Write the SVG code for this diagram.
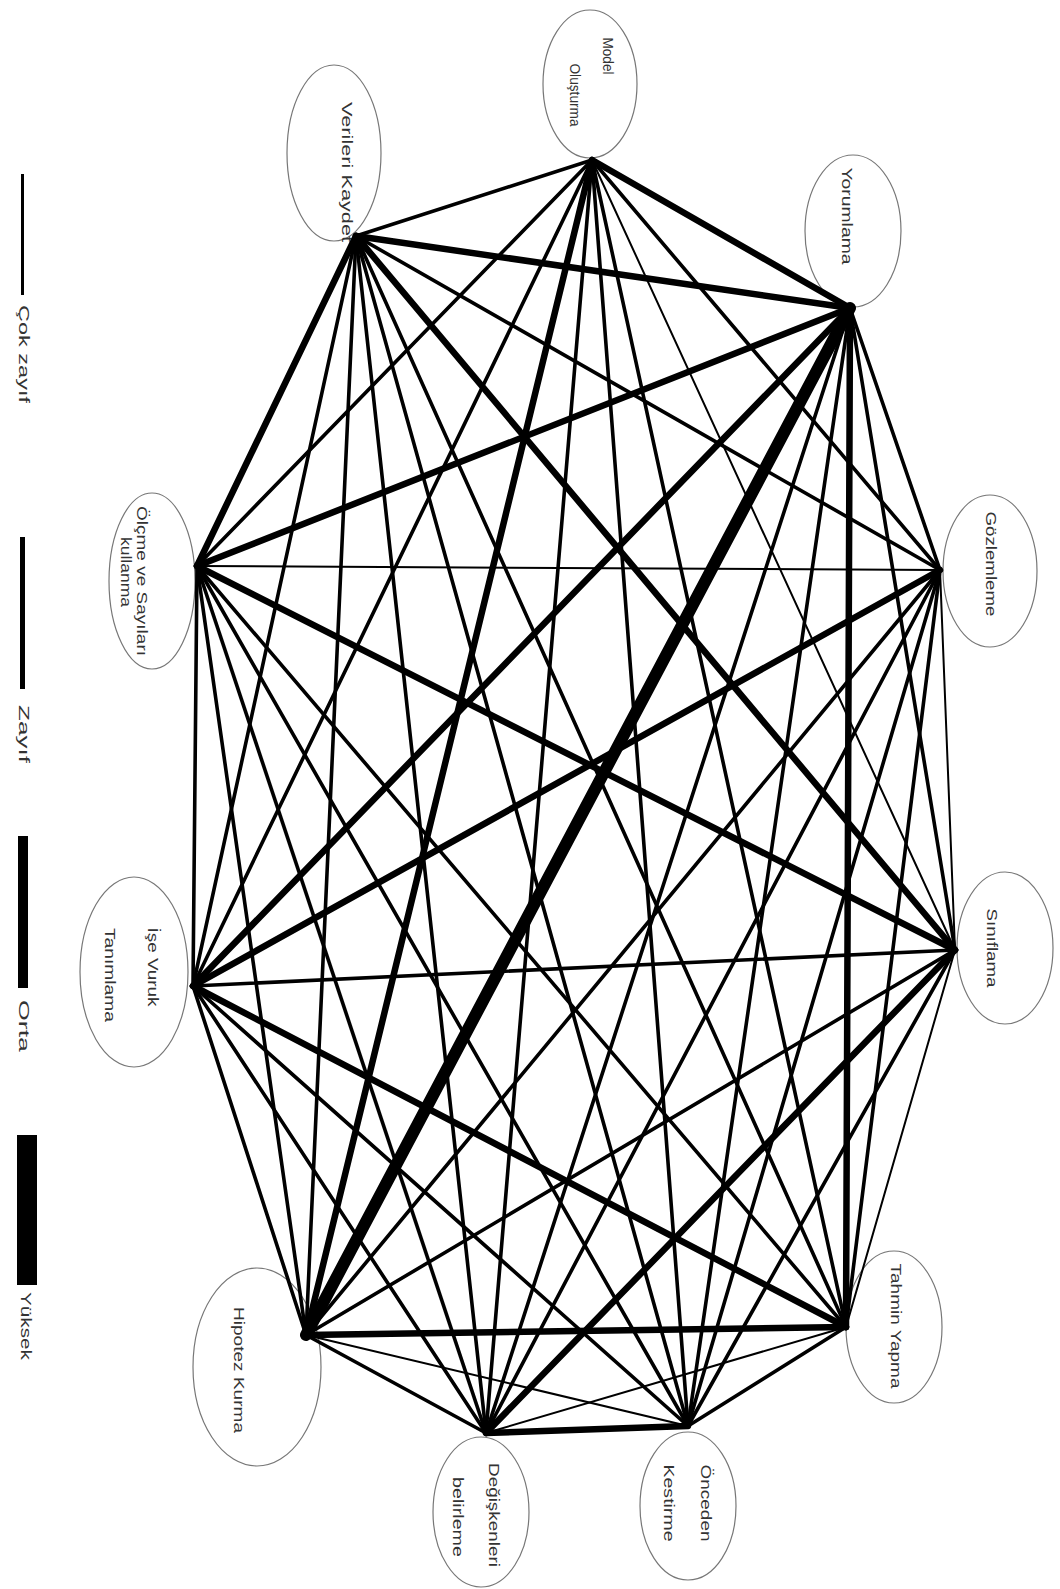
<svg xmlns="http://www.w3.org/2000/svg" width="1060" height="1589" viewBox="0 0 1060 1589">
<style>
.bg{fill:#fff}
.nd ellipse{fill:none;stroke:#777;stroke-width:1.2}
.lb{font-family:"Liberation Sans","DejaVu Sans",sans-serif;font-size:15px;fill:#333;text-anchor:middle;dominant-baseline:central}
.e line{stroke:#000;stroke-linecap:round}
.w1{stroke-width:2}
.w2{stroke-width:3.6}
.w3{stroke-width:6.5}
.w4{stroke-width:12}
.bar{fill:#000}
</style>
<rect class="bg" x="0" y="0" width="1060" height="1589"/>

<g id="legend">
<rect class="bar" x="21" y="174" width="3" height="121"/>
<text class="lb" transform="translate(24,354) rotate(90)" textLength="98" lengthAdjust="spacingAndGlyphs">Çok zayıf</text>
<rect class="bar" x="20" y="537" width="5" height="152"/>
<text class="lb" transform="translate(24,734) rotate(90)" textLength="58" lengthAdjust="spacingAndGlyphs">Zayıf</text>
<rect class="bar" x="18" y="836" width="10" height="152"/>
<text class="lb" transform="translate(24,1026) rotate(90)" textLength="52" lengthAdjust="spacingAndGlyphs">Orta</text>
<rect class="bar" x="17" y="1135" width="20" height="150"/>
<text class="lb" transform="translate(26,1326) rotate(90)" textLength="68" lengthAdjust="spacingAndGlyphs">Yüksek</text>
</g>

<g id="n-model" class="nd"><ellipse cx="590" cy="84" rx="47" ry="74"/>
<text class="lb" transform="translate(608,56) rotate(90)" textLength="37" lengthAdjust="spacingAndGlyphs">Model</text>
<text class="lb" transform="translate(575,95) rotate(90)" textLength="63" lengthAdjust="spacingAndGlyphs">Oluşturma</text></g>
<g id="n-verileri" class="nd"><ellipse cx="334" cy="153" rx="47" ry="88"/>
<text class="lb" transform="translate(347,172) rotate(90)" textLength="140" lengthAdjust="spacingAndGlyphs">Verileri Kaydet</text></g>
<g id="n-yorumlama" class="nd"><ellipse cx="853" cy="231" rx="48" ry="76"/>
<text class="lb" transform="translate(847,216) rotate(90)" textLength="97" lengthAdjust="spacingAndGlyphs">Yorumlama</text></g>
<g id="n-gozlemleme" class="nd"><ellipse cx="990" cy="571" rx="47" ry="76"/>
<text class="lb" transform="translate(991,564) rotate(90)" textLength="105" lengthAdjust="spacingAndGlyphs">Gözlemleme</text></g>
<g id="n-siniflama" class="nd"><ellipse cx="1005" cy="948" rx="48" ry="76"/>
<text class="lb" transform="translate(992,948) rotate(90)" textLength="79" lengthAdjust="spacingAndGlyphs">Sınıflama</text></g>
<g id="n-tahmin" class="nd"><ellipse cx="894" cy="1327" rx="48" ry="76"/>
<text class="lb" transform="translate(896,1326) rotate(90)" textLength="125" lengthAdjust="spacingAndGlyphs">Tahmin Yapma</text></g>
<g id="n-onceden" class="nd"><ellipse cx="688" cy="1506" rx="48" ry="74"/>
<text class="lb" transform="translate(706,1503) rotate(90)" textLength="77" lengthAdjust="spacingAndGlyphs">Önceden</text>
<text class="lb" transform="translate(669,1503) rotate(90)" textLength="77" lengthAdjust="spacingAndGlyphs">Kestirme</text></g>
<g id="n-degiskenleri" class="nd"><ellipse cx="481" cy="1512" rx="48" ry="75"/>
<text class="lb" transform="translate(494,1515) rotate(90)" textLength="104" lengthAdjust="spacingAndGlyphs">Değişkenleri</text>
<text class="lb" transform="translate(458,1517) rotate(90)" textLength="80" lengthAdjust="spacingAndGlyphs">belirleme</text></g>
<g id="n-hipotez" class="nd"><ellipse cx="257" cy="1367" rx="64" ry="99"/>
<text class="lb" transform="translate(239,1370) rotate(90)" textLength="126" lengthAdjust="spacingAndGlyphs">Hipotez Kurma</text></g>
<g id="n-ise" class="nd"><ellipse cx="134" cy="972" rx="54" ry="95"/>
<text class="lb" transform="translate(153,967) rotate(90)" textLength="79" lengthAdjust="spacingAndGlyphs">İşe Vuruk</text>
<text class="lb" transform="translate(110,975) rotate(90)" textLength="94" lengthAdjust="spacingAndGlyphs">Tanımlama</text></g>
<g id="n-olcme" class="nd"><ellipse cx="152" cy="581" rx="43" ry="88"/>
<text class="lb" transform="translate(142,581) rotate(90)" textLength="150" lengthAdjust="spacingAndGlyphs">Ölçme ve Sayıları</text>
<text class="lb" transform="translate(126,572) rotate(90)" textLength="70" lengthAdjust="spacingAndGlyphs">kullanma</text></g>

<g id="edges" class="e">
<line class="w2" x1="592" y1="160" x2="356" y2="236"/>
<line class="w3" x1="592" y1="160" x2="850" y2="308"/>
<line class="w2" x1="592" y1="160" x2="940" y2="570"/>
<line class="w1" x1="592" y1="160" x2="955" y2="950"/>
<line class="w2" x1="592" y1="160" x2="846" y2="1327"/>
<line class="w2" x1="592" y1="160" x2="688" y2="1426"/>
<line class="w2" x1="592" y1="160" x2="486" y2="1433"/>
<line class="w3" x1="592" y1="160" x2="306" y2="1335"/>
<line class="w2" x1="592" y1="160" x2="193" y2="986"/>
<line class="w2" x1="592" y1="160" x2="197" y2="566"/>
<line class="w3" x1="356" y1="236" x2="850" y2="308"/>
<line class="w2" x1="356" y1="236" x2="940" y2="570"/>
<line class="w3" x1="356" y1="236" x2="955" y2="950"/>
<line class="w2" x1="356" y1="236" x2="846" y2="1327"/>
<line class="w2" x1="356" y1="236" x2="688" y2="1426"/>
<line class="w2" x1="356" y1="236" x2="486" y2="1433"/>
<line class="w2" x1="356" y1="236" x2="306" y2="1335"/>
<line class="w2" x1="356" y1="236" x2="193" y2="986"/>
<line class="w3" x1="356" y1="236" x2="197" y2="566"/>
<line class="w2" x1="850" y1="308" x2="940" y2="570"/>
<line class="w2" x1="850" y1="308" x2="955" y2="950"/>
<line class="w3" x1="850" y1="308" x2="846" y2="1327"/>
<line class="w2" x1="850" y1="308" x2="688" y2="1426"/>
<line class="w2" x1="850" y1="308" x2="486" y2="1433"/>
<line class="w4" x1="850" y1="308" x2="306" y2="1335"/>
<line class="w3" x1="850" y1="308" x2="193" y2="986"/>
<line class="w3" x1="850" y1="308" x2="197" y2="566"/>
<line class="w1" x1="940" y1="570" x2="955" y2="950"/>
<line class="w2" x1="940" y1="570" x2="846" y2="1327"/>
<line class="w2" x1="940" y1="570" x2="688" y2="1426"/>
<line class="w2" x1="940" y1="570" x2="486" y2="1433"/>
<line class="w2" x1="940" y1="570" x2="306" y2="1335"/>
<line class="w3" x1="940" y1="570" x2="193" y2="986"/>
<line class="w1" x1="940" y1="570" x2="197" y2="566"/>
<line class="w1" x1="955" y1="950" x2="846" y2="1327"/>
<line class="w2" x1="955" y1="950" x2="688" y2="1426"/>
<line class="w3" x1="955" y1="950" x2="486" y2="1433"/>
<line class="w2" x1="955" y1="950" x2="306" y2="1335"/>
<line class="w2" x1="955" y1="950" x2="193" y2="986"/>
<line class="w3" x1="955" y1="950" x2="197" y2="566"/>
<line class="w2" x1="846" y1="1327" x2="688" y2="1426"/>
<line class="w1" x1="846" y1="1327" x2="486" y2="1433"/>
<line class="w3" x1="846" y1="1327" x2="306" y2="1335"/>
<line class="w3" x1="846" y1="1327" x2="193" y2="986"/>
<line class="w2" x1="846" y1="1327" x2="197" y2="566"/>
<line class="w3" x1="688" y1="1426" x2="486" y2="1433"/>
<line class="w1" x1="688" y1="1426" x2="306" y2="1335"/>
<line class="w2" x1="688" y1="1426" x2="193" y2="986"/>
<line class="w2" x1="688" y1="1426" x2="197" y2="566"/>
<line class="w2" x1="486" y1="1433" x2="306" y2="1335"/>
<line class="w2" x1="486" y1="1433" x2="193" y2="986"/>
<line class="w2" x1="486" y1="1433" x2="197" y2="566"/>
<line class="w2" x1="306" y1="1335" x2="193" y2="986"/>
<line class="w2" x1="306" y1="1335" x2="197" y2="566"/>
<line class="w2" x1="193" y1="986" x2="197" y2="566"/>
</g>
</svg>
